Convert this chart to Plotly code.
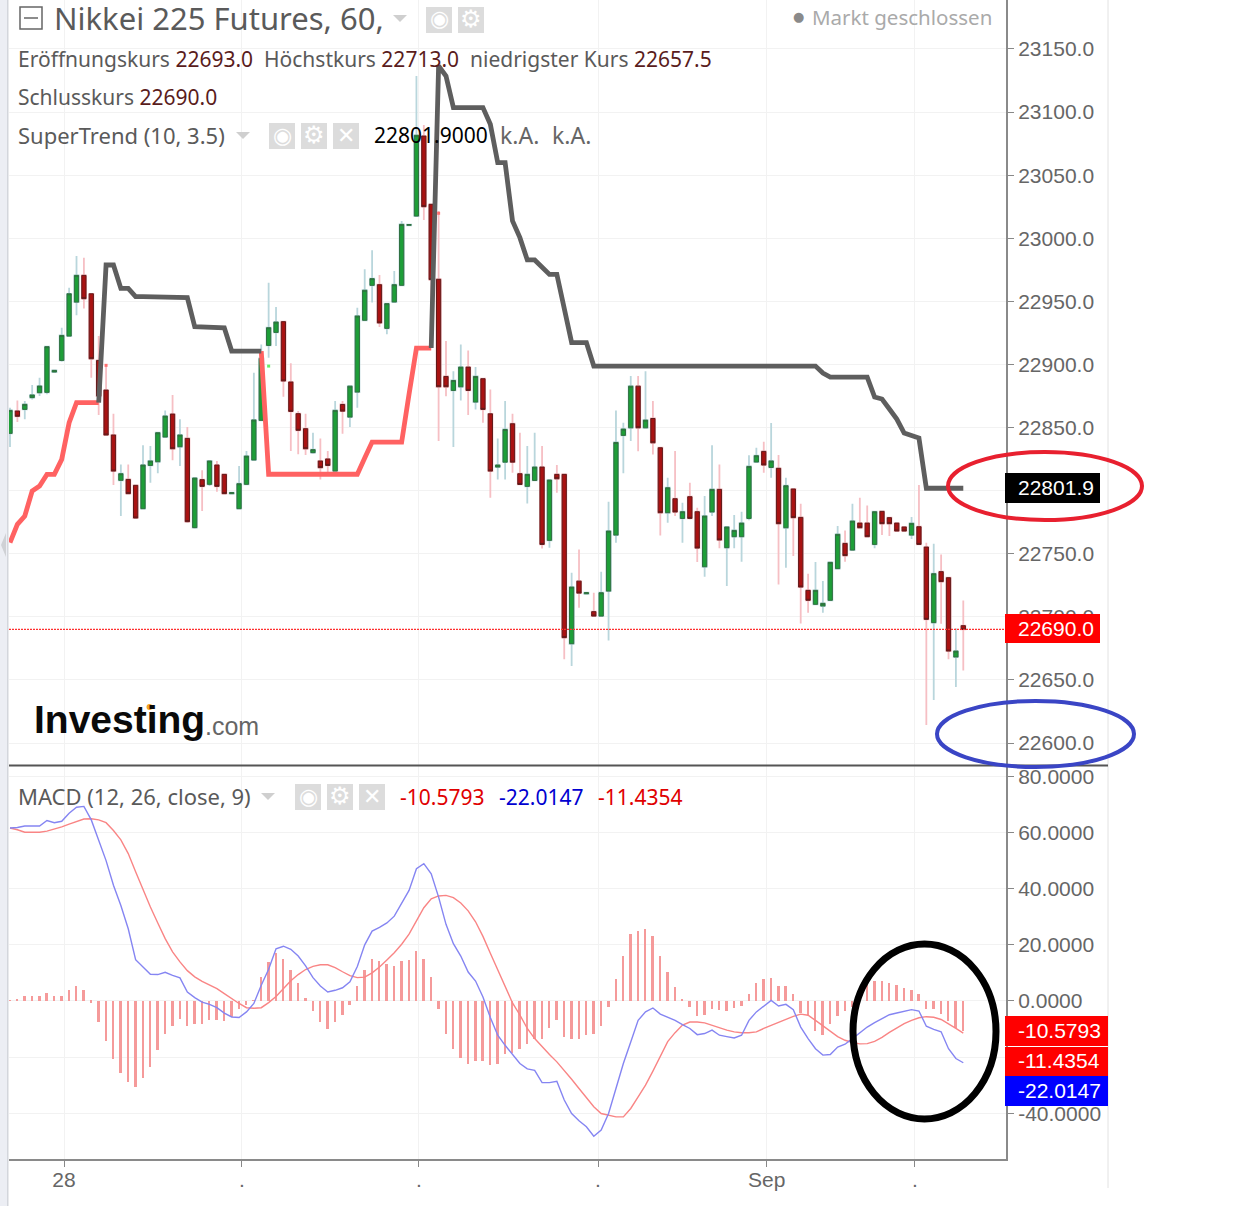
"""Nikkei 225 Futures 60min chart with SuperTrend and MACD panels."""
import plotly.graph_objects as go

W, H = 1251, 1206

# ── OHLC ──────────────────────────────────────────────────────────────────
opens = [
    22845.4, 22863.1, 22864.4, 22873.7, 22877.6, 22877.9, 22894.0, 22903.2, 22922.5, 22949.4,
    22970.6, 22956.0, 22903.2, 22879.7, 22844.1, 22808.2, 22808.9, 22804.2, 22785.7, 22820.0,
    22822.9, 22842.5, 22860.7, 22834.8, 22841.4, 22770.7, 22808.7, 22805.0, 22820.3, 22812.9,
    22797.6, 22785.7, 22805.0, 22824.3, 22855.7, 22915.1, 22925.4, 22933.9, 22886.1, 22861.0,
    22849.1, 22830.1, 22823.5, 22825.1, 22815.5, 22868.3, 22858.3, 22878.1, 22935.0, 22962.7,
    22963.2, 22928.6, 22949.5, 22962.7, 23010.3, 23017.6, 23081.0, 23026.9, 22967.5, 22890.5,
    22879.4, 22882.3, 22897.9, 22870.2, 22888.7, 22860.9, 22818.7, 22822.6, 22853.0, 22813.4,
    22803.4, 22808.1, 22818.7, 22760.6, 22812.9, 22812.9, 22678.7, 22728.3, 22718.3, 22704.1,
    22700.6, 22720.4, 22764.8, 22843.8, 22849.8, 22882.8, 22849.8, 22857.2, 22834.0, 22782.5,
    22793.6, 22778.0, 22795.2, 22783.3, 22739.7, 22783.1, 22801.0, 22754.8, 22763.5, 22763.5,
    22778.0, 22822.7, 22831.1, 22818.4, 22817.7, 22770.6, 22801.3, 22778.8, 22721.0, 22709.9,
    22708.6, 22713.1, 22738.2, 22758.2, 22752.9, 22774.3, 22774.3, 22757.4, 22783.6, 22778.6,
    22774.3, 22771.2, 22764.8, 22771.4, 22755.3, 22695.4, 22735.8, 22731.0, 22668.2, 22693.0,
]
closes = [
    22863.6, 22858.9, 22868.4, 22875.8, 22882.9, 22914.1, 22895.3, 22923.0, 22956.0, 22970.6,
    22952.1, 22904.5, 22875.0, 22844.1, 22815.5, 22813.4, 22797.6, 22778.3, 22820.3, 22823.5,
    22845.9, 22859.1, 22833.2, 22844.1, 22775.4, 22810.0, 22803.4, 22823.5, 22803.4, 22797.6,
    22798.4, 22805.5, 22827.4, 22856.0, 22904.8, 22929.1, 22933.6, 22886.9, 22862.8, 22847.8,
    22833.2, 22832.5, 22818.2, 22820.0, 22863.6, 22863.0, 22882.8, 22938.4, 22958.8, 22968.0,
    22932.9, 22948.2, 22963.2, 23011.0, 23010.8, 23081.6, 23025.0, 22967.2, 22882.3, 22882.3,
    22887.3, 22897.9, 22879.4, 22890.5, 22864.4, 22815.5, 22820.3, 22848.5, 22822.6, 22804.9,
    22812.9, 22818.7, 22757.4, 22808.4, 22809.4, 22683.5, 22723.6, 22718.8, 22719.1, 22700.6,
    22719.1, 22768.0, 22838.2, 22848.8, 22882.8, 22849.8, 22855.9, 22837.9, 22782.5, 22802.3,
    22783.1, 22783.3, 22778.0, 22754.5, 22779.9, 22801.0, 22760.9, 22771.2, 22768.5, 22774.3,
    22819.2, 22827.7, 22820.3, 22823.5, 22773.8, 22803.9, 22778.6, 22723.6, 22713.1, 22721.0,
    22710.7, 22743.2, 22765.4, 22748.5, 22775.9, 22770.6, 22763.5, 22783.3, 22773.8, 22773.8,
    22768.0, 22768.0, 22774.1, 22757.4, 22698.0, 22734.2, 22727.9, 22672.9, 22672.9, 22690.0,
]
highs = [
    22865.7, 22871.5, 22871.0, 22883.7, 22889.5, 22914.6, 22895.5, 22929.1, 22960.8, 22985.9,
    22984.6, 22956.5, 22922.5, 22900.1, 22861.0, 22820.8, 22820.8, 22804.8, 22835.9, 22835.4,
    22846.5, 22863.6, 22875.8, 22856.5, 22850.4, 22810.5, 22816.1, 22824.0, 22823.5, 22813.4,
    22798.6, 22819.5, 22831.4, 22893.5, 22915.9, 22964.8, 22945.5, 22934.4, 22900.9, 22863.1,
    22861.0, 22845.9, 22841.4, 22831.4, 22871.0, 22871.0, 22883.0, 22945.0, 22975.4, 22990.4,
    22970.9, 22948.7, 22974.1, 23013.7, 23011.0, 23128.6, 23089.7, 23027.4, 23021.6, 22918.5,
    22894.7, 22915.9, 22911.1, 22897.9, 22889.2, 22880.2, 22841.4, 22871.0, 22860.9, 22845.9,
    22835.3, 22845.9, 22835.3, 22808.9, 22820.3, 22813.4, 22735.0, 22753.4, 22719.3, 22719.1,
    22735.7, 22791.2, 22863.6, 22853.8, 22890.8, 22890.8, 22894.7, 22871.0, 22834.5, 22810.2,
    22831.4, 22790.4, 22806.3, 22786.5, 22795.7, 22835.9, 22820.8, 22771.7, 22780.7, 22783.3,
    22828.0, 22834.0, 22838.8, 22853.6, 22828.2, 22810.3, 22801.8, 22789.7, 22734.2, 22743.4,
    22728.4, 22743.7, 22772.0, 22768.5, 22789.7, 22794.4, 22788.3, 22783.8, 22784.0, 22779.0,
    22774.7, 22771.5, 22779.1, 22804.4, 22758.8, 22758.0, 22749.5, 22731.5, 22690.9, 22713.0,
]
lows = [
    22834.6, 22854.4, 22856.5, 22872.3, 22875.0, 22876.3, 22893.8, 22902.2, 22921.7, 22938.9,
    22944.4, 22889.5, 22859.9, 22843.3, 22804.5, 22779.9, 22797.1, 22778.0, 22785.2, 22806.3,
    22813.7, 22842.0, 22824.0, 22819.5, 22774.6, 22769.9, 22783.9, 22803.7, 22799.2, 22797.1,
    22797.4, 22785.2, 22804.5, 22823.5, 22855.2, 22905.3, 22914.6, 22874.4, 22831.4, 22828.8,
    22828.2, 22829.3, 22808.9, 22811.6, 22815.0, 22845.1, 22850.4, 22865.7, 22934.5, 22949.0,
    22929.7, 22923.9, 22949.0, 22962.2, 23010.0, 23017.2, 23014.5, 22945.0, 22839.3, 22874.9,
    22834.5, 22871.5, 22859.9, 22864.4, 22853.8, 22794.4, 22808.9, 22808.9, 22814.2, 22804.4,
    22789.9, 22807.6, 22754.2, 22754.8, 22798.3, 22666.3, 22661.0, 22707.2, 22718.1, 22699.8,
    22700.1, 22681.3, 22758.7, 22813.7, 22839.3, 22831.3, 22849.3, 22828.7, 22764.5, 22774.6,
    22779.9, 22758.8, 22777.2, 22743.4, 22731.8, 22779.9, 22754.3, 22724.4, 22754.3, 22743.7,
    22776.5, 22821.9, 22814.2, 22810.3, 22725.7, 22739.0, 22748.2, 22694.8, 22703.3, 22709.4,
    22703.3, 22712.5, 22737.6, 22743.7, 22752.2, 22770.1, 22763.0, 22754.3, 22764.8, 22764.0,
    22767.5, 22767.5, 22761.7, 22756.9, 22614.3, 22634.1, 22694.6, 22666.3, 22644.4, 22657.5,
]

# ── SuperTrend, split by direction ────────────────────────────────────────
trend_up = (
    [22758.8, 22773.3, 22779.9, 22799.7, 22803.7, 22812.9, 22812.9, 22824.8, 22853.8,
     22869.7, 22869.7, 22869.7, 22869.7]
    + [None] * 21
    + [22910.6]
    + [22813.0] * 13
    + [22825.8]
    + [22838.5] * 5
    + [22876.5, 22913.0, 22913.0, 22913.0]
    + [None] * 72
)
trend_down = (
    [None] * 12
    + [22869.7, 22978.8, 22978.8, 22960.3, 22960.3]
    + [22953.7] * 7
    + [22952.9, 22929.9, 22929.9, 22929.9, 22929.9, 22929.1]
    + [22910.6] * 5
    + [None] * 22
    + [22913.0, 23136.5, 23128.6]
    + [23103.5] * 5
    + [23090.3, 23059.9, 23059.9, 23013.7, 23000.5, 22982.8, 22982.8, 22976.7,
       22971.4, 22971.4, 22945.0, 22917.3, 22917.3, 22917.3]
    + [22898.7] * 31
    + [22893.2]
    + [22890.0] * 6
    + [22874.2, 22872.6, 22864.7, 22856.7, 22845.6, 22843.3, 22841.7]
    + [22801.9] * 6
)
flip_up_x, flip_up_y = [13, 58], [22899.3, 23019.8]
flip_down_x, flip_down_y = [35], [22898.7]

# ── MACD (12, 26, close, 9) ───────────────────────────────────────────────
macd = [
    61.6, 61.8, 62.3, 62.3, 62.3, 64.3, 63.5, 64.0, 66.9, 69.0,
    69.3, 64.5, 57.4, 50.0, 41.2, 34.0, 25.7, 14.7, 12.1, 9.5,
    9.4, 10.2, 9.1, 8.2, 3.2, 1.2, -0.4, -1.2, -2.4, -4.3,
    -5.7, -5.9, -3.9, -0.9, 5.6, 11.3, 18.6, 19.5, 18.4, 16.0,
    12.5, 8.3, 5.3, 3.2, 3.8, 4.7, 6.8, 12.3, 20.0, 24.9,
    26.2, 27.8, 30.2, 34.6, 39.4, 47.1, 48.9, 45.3, 37.0, 27.3,
    20.4, 16.0, 10.3, 7.1, 1.4, -5.9, -12.2, -15.8, -19.0, -22.3,
    -24.2, -24.7, -29.1, -29.1, -28.6, -35.3, -40.1, -42.7, -44.8, -48.2,
    -46.0, -40.1, -31.2, -22.3, -14.6, -6.9, -3.9, -2.5, -4.7, -5.9,
    -6.9, -8.4, -9.8, -12.0, -11.6, -10.4, -12.2, -12.7, -13.2, -12.2,
    -6.9, -3.9, -1.8, 0.2, -1.8, -1.2, -3.1, -9.3, -13.4, -17.0,
    -19.3, -19.1, -16.4, -15.4, -13.4, -11.3, -9.3, -7.7, -6.3, -4.9,
    -4.3, -3.7, -3.1, -3.6, -9.0, -10.1, -11.0, -17.0, -20.5, -22.0147,
]
signal = [
    61.6, 61.0, 60.1, 60.1, 60.1, 60.5, 61.2, 62.0, 63.0, 64.0,
    64.8, 64.9, 64.5, 63.5, 60.7, 57.4, 52.5, 46.0, 39.5, 33.5,
    27.8, 22.2, 17.5, 13.9, 10.8, 8.6, 7.0, 5.8, 4.4, 2.6,
    0.8, -0.9, -2.4, -2.6, -2.4, -0.6, 1.6, 4.4, 7.2, 9.4,
    11.2, 12.3, 12.9, 12.9, 11.9, 10.4, 9.0, 8.3, 8.5, 10.0,
    12.1, 14.6, 17.2, 20.2, 23.8, 28.5, 33.2, 36.4, 37.4, 37.6,
    36.8, 34.9, 32.1, 28.2, 23.0, 17.0, 11.0, 5.0, -0.7, -5.0,
    -9.8, -13.4, -16.4, -19.1, -21.7, -24.7, -27.9, -31.2, -34.4, -37.7,
    -40.1, -40.7, -41.3, -41.3, -38.3, -34.2, -30.0, -25.0, -19.5, -14.5,
    -11.3, -8.6, -7.5, -7.5, -7.8, -8.7, -9.6, -10.4, -11.0, -11.3,
    -11.3, -11.0, -9.8, -8.7, -7.6, -6.7, -5.5, -4.7, -5.1, -6.9,
    -8.9, -11.0, -12.7, -14.0, -14.8, -15.3, -15.2, -14.4, -13.0, -11.2,
    -9.5, -8.1, -6.9, -6.0, -5.6, -5.8, -6.6, -8.1, -9.8, -11.4354,
]
hist = [
    0.2, 0.5, 1.8, 1.7, 1.7, 3.0, 1.7, 1.7, 3.8, 5.2,
    3.8, -0.6, -7.5, -14.2, -20.8, -25.5, -28.8, -30.8, -27.4, -23.5,
    -17.6, -11.6, -9.0, -6.3, -9.0, -8.3, -8.3, -6.9, -6.9, -7.1,
    -5.7, -3.0, -1.5, 0.3, 8.5, 13.9, 17.2, 15.1, 11.1, 6.5,
    1.1, -3.7, -7.5, -10.1, -7.5, -4.9, -1.5, 5.2, 10.9, 15.1,
    14.1, 13.0, 12.3, 14.4, 14.5, 17.7, 15.1, 8.5, -2.8, -11.6,
    -17.0, -20.3, -22.3, -21.5, -21.5, -22.9, -22.3, -19.0, -18.5, -17.0,
    -15.2, -13.4, -13.4, -9.8, -6.9, -12.8, -13.4, -13.4, -12.2, -11.9,
    -9.0, -2.1, 7.7, 15.9, 23.7, 25.1, 25.7, 23.1, 15.9, 10.3,
    5.0, 0.8, -2.1, -5.5, -4.9, -2.7, -3.3, -3.6, -2.4, -1.9,
    2.4, 6.4, 7.7, 8.3, 5.2, 5.2, 2.4, -4.2, -5.1, -10.7,
    -12.2, -8.1, -5.5, -3.6, -2.1, 2.6, 5.6, 7.1, 7.1, 6.4,
    5.8, 4.7, 3.8, 2.6, -2.7, -3.0, -4.7, -7.1, -9.8, -10.5793,
]

bars = list(range(len(opens)))

# ── Axis ticks ────────────────────────────────────────────────────────────
x_ticks = [7.31, 31.39, 55.34, 79.57, 102.4, 122.46]
x_tick_labels = ["28", ".", ".", ".", "Sep", "."]
price_ticks = [22600, 22650, 22700, 22750, 22800, 22850, 22900, 22950, 23000, 23050, 23100, 23150]
macd_ticks = [-40, -20, 0, 20, 40, 60, 80]
macd_tick_labels = ["-40.0000", "-20.0000", "0.0000", "20.0000", "40.0000", "60.0000", "80.0000"]

GRAY = "#5a5a5a"
VALUE = "#5a1c1c"
SANS = "Noto Sans"
AXIS_FONT = "Liberation Sans"


def px(x):
    return x / W


def py(y):
    return 1 - y / H


def paper_rect(x0, y0, x1, y1, fill, layer="above"):
    return dict(type="rect", xref="paper", yref="paper", layer=layer,
                x0=px(x0), x1=px(x1), y0=py(y0), y1=py(y1),
                fillcolor=fill, line_width=0)


def paper_ellipse(x0, y0, x1, y1, color, width):
    return dict(type="circle", xref="paper", yref="paper", layer="above",
                x0=px(x0), x1=px(x1), y0=py(y0), y1=py(y1),
                line=dict(color=color, width=width))


def triangle(cx, cy):
    path = (f"M {px(cx - 7)} {py(cy - 3)} L {px(cx + 7)} {py(cy - 3)} "
            f"L {px(cx)} {py(cy + 4)} Z")
    return dict(type="path", xref="paper", yref="paper", path=path,
                fillcolor="#cfcfcf", line_width=0)


def label(x, y, text, size, color=GRAY, family=SANS, anchor="left"):
    return dict(x=px(x), y=py(y), xref="paper", yref="paper", text=text, showarrow=False,
                xanchor=anchor, yanchor="middle", align=anchor, borderpad=0,
                font=dict(size=size, color=color, family=family))


def span(text, color):
    return f'<span style="color:{color}">{text}</span>'


fig = go.Figure()

# wicks are pale, bodies are dark: two candlestick layers
fig.add_trace(go.Candlestick(
    x=bars, open=opens, high=highs, low=lows, close=closes,
    increasing=dict(line=dict(color="#b9d6dc", width=1.8), fillcolor="#b9d6dc"),
    decreasing=dict(line=dict(color="#f6bfc4", width=1.8), fillcolor="#f6bfc4"),
    whiskerwidth=0, xaxis="x", yaxis="y", hoverinfo="skip",
))
fig.add_trace(go.Candlestick(
    x=bars, open=opens, close=closes,
    high=[max(o, c) for o, c in zip(opens, closes)],
    low=[min(o, c) for o, c in zip(opens, closes)],
    increasing=dict(line=dict(color="#2f6f3f", width=1), fillcolor="#1d9e38"),
    decreasing=dict(line=dict(color="#5f1a1a", width=1), fillcolor="#a91212"),
    whiskerwidth=0, xaxis="x", yaxis="y",
))
fig.add_trace(go.Scatter(x=bars, y=trend_up, mode="lines", xaxis="x", yaxis="y",
                         line=dict(color="#ff6262", width=4.8)))
fig.add_trace(go.Scatter(x=bars, y=trend_down, mode="lines", xaxis="x", yaxis="y",
                         line=dict(color="#5e5e5e", width=4.8)))
fig.add_trace(go.Scatter(x=flip_up_x, y=flip_up_y, mode="markers", xaxis="x", yaxis="y",
                         marker=dict(color="#ff6f6f", size=3, symbol="square")))
fig.add_trace(go.Scatter(x=flip_down_x, y=flip_down_y, mode="markers", xaxis="x", yaxis="y",
                         marker=dict(color="#66ee66", size=3, symbol="square")))

fig.add_trace(go.Bar(x=bars, y=hist, width=0.26, xaxis="x2", yaxis="y2",
                     marker=dict(color="#f59a9a", line_width=0)))
fig.add_trace(go.Scatter(x=bars, y=signal, mode="lines", xaxis="x2", yaxis="y2",
                         line=dict(color="#f98585", width=1.4)))
fig.add_trace(go.Scatter(x=bars, y=macd, mode="lines", xaxis="x2", yaxis="y2",
                         line=dict(color="#8585f2", width=1.4)))

shapes = [
    paper_rect(0, 0, 7, H, "#eceef4", layer="below"),
    paper_rect(7, 0, 8.5, H, "#d3d6dc", layer="below"),
    dict(type="path", xref="paper", yref="paper", fillcolor="#cfd1d5", line_width=0,
         path=f"M {px(6)} {py(533)} L {px(1)} {py(545)} L {px(6)} {py(557)} Z"),
    dict(type="line", xref="paper", yref="paper", x0=px(1108), x1=px(1108), y0=py(0), y1=py(1188),
         line=dict(color="#e2e2e2", width=1)),
    # pane separator runs under the scale as well
    dict(type="line", xref="paper", yref="paper", x0=px(9), x1=px(1108), y0=py(765.5), y1=py(765.5),
         line=dict(color="#555555", width=2)),
    # last close line
    dict(type="line", xref="x", yref="y", x0=-0.135, x1=134.78, y0=22690, y1=22690,
         line=dict(color="#ff3030", width=1.2, dash="2px,1px")),
    # value boxes on the scales
    paper_rect(1005, 473, 1100, 503, "#000000"),
    paper_rect(1005, 614, 1100, 643, "#ff0000"),
    paper_rect(1005, 1016, 1108, 1046, "#ff0000"),
    paper_rect(1005, 1047, 1108, 1076, "#ff0000"),
    paper_rect(1005, 1076, 1108, 1106, "#0000ff"),
    # hand drawn marks
    paper_ellipse(948, 452, 1142, 520, "#e8202f", 4),
    paper_ellipse(937, 701, 1134, 767, "#3a45c5", 4),
    paper_ellipse(853, 944, 996, 1119, "#000000", 7),
    # collapse box
    dict(type="rect", xref="paper", yref="paper", x0=px(20), x1=px(42), y0=py(7), y1=py(29),
         line=dict(color="#666666", width=1.5)),
    dict(type="line", xref="paper", yref="paper", x0=px(24), x1=px(38), y0=py(18), y1=py(18),
         line=dict(color="#666666", width=1.5)),
    # logo dot
    dict(type="circle", xref="paper", yref="paper", fillcolor="#f5a623", line_width=0,
         x0=px(146.5), x1=px(152.5), y0=py(704), y1=py(710)),
    triangle(400, 18), triangle(243, 135), triangle(268, 796),
]

annotations = [
    label(53, 18, "Nikkei 225 Futures, 60,", 31),
    label(17, 59, "Eröffnungskurs " + span("22693.0", VALUE) + "  Höchstkurs " + span("22713.0", VALUE)
          + "  niedrigster Kurs " + span("22657.5", VALUE), 21),
    label(17, 97, "Schlusskurs " + span("22690.0", VALUE), 21),
    label(17, 135, "SuperTrend (10, 3.5)", 22),
    label(373, 135, "22801.9000", 21, color="#000000"),
    label(499, 135, "k.A.", 23, color="#666666"),
    label(551, 135, "k.A.", 23, color="#666666"),
    label(811, 17, "Markt geschlossen", 20.5, color="#aaaaaa"),
    label(792, 17, "●", 13, color="#8a8a8a", family="DejaVu Sans"),
    label(17, 796, "MACD (12, 26, close, 9)", 22),
    label(399, 797, "-10.5793", 21, color="#e00000"),
    label(498, 797, "-22.0147", 21, color="#0000d0"),
    label(597, 797, "-11.4354", 21, color="#e00000"),
    label(33, 719, "<b>Investing</b>", 39, color="#0a0a0a", family=AXIS_FONT),
    label(204, 726, ".com", 25, color="#666666", family=AXIS_FONT),
    label(1017, 487, "22801.9", 21, color="#ffffff", family=AXIS_FONT),
    label(1017, 628, "22690.0", 21, color="#ffffff", family=AXIS_FONT),
    label(1017, 1030, "-10.5793", 21, color="#ffffff", family=AXIS_FONT),
    label(1017, 1060, "-11.4354", 21, color="#ffffff", family=AXIS_FONT),
    label(1017, 1090, "-22.0147", 21, color="#ffffff", family=AXIS_FONT),
]

# grey eye / gear / close buttons next to each legend row
for left, row, glyph, size in [
    (426, 20, "◉", 22), (458, 20, "⚙", 24),
    (269, 136, "◉", 22), (301, 136, "⚙", 24), (333, 136, "✕", 22),
    (295, 797, "◉", 22), (327, 797, "⚙", 24), (359, 797, "✕", 22),
]:
    shapes.append(paper_rect(left, row - 13, left + 26, row + 13, "#dcdcdc"))
    annotations.append(label(left + 13, row - 1, glyph, size, color="#ffffff",
                             family="DejaVu Sans", anchor="center"))

x_range = [-0.135, 134.78]
grid = "#f2f2f2"
tick_font = dict(size=21, color="#666666", family=AXIS_FONT)

fig.update_layout(
    width=W, height=H, autosize=False,
    margin=dict(l=0, r=0, t=0, b=0),
    paper_bgcolor="white", plot_bgcolor="white",
    showlegend=False, bargap=0, boxgap=0.18, hovermode=False,
    shapes=shapes, annotations=annotations,
    xaxis=dict(domain=[px(9), px(1006)], range=x_range, anchor="y",
               rangeslider=dict(visible=False), tickmode="array", tickvals=x_ticks,
               showticklabels=False, ticks="", gridcolor=grid, zeroline=False,
               showline=False),
    yaxis=dict(domain=[py(765), 1], range=[22582.6, 23188.8], anchor="x", side="right",
               tickmode="array", tickvals=price_ticks, tickformat=".1f",
               ticks="outside", ticklen=6, tickcolor="#888888", tickfont=tick_font,
               ticklabelstandoff=0, gridcolor=grid, zeroline=False,
               showline=True, linecolor="#8a8a8a", linewidth=2),
    xaxis2=dict(domain=[px(9), px(1006)], range=x_range, anchor="y2",
                tickmode="array", tickvals=x_ticks, ticktext=x_tick_labels,
                ticks="outside", ticklen=6, tickcolor="#888888", tickfont=tick_font,
                ticklabelstandoff=-5, gridcolor=grid, zeroline=False,
                showline=True, linecolor="#8a8a8a", linewidth=2),
    yaxis2=dict(domain=[py(1159), py(766)], range=[-56.3, 83.7], anchor="x2", side="right",
                tickmode="array", tickvals=macd_ticks, ticktext=macd_tick_labels,
                ticks="outside", ticklen=6, tickcolor="#888888", tickfont=tick_font,
                ticklabelstandoff=0, gridcolor=grid, zeroline=False,
                showline=True, linecolor="#8a8a8a", linewidth=2),
)

fig.write_html("out.html", config={"displayModeBar": False},
               post_script="document.body.style.margin='0';document.body.style.overflow='hidden';")
